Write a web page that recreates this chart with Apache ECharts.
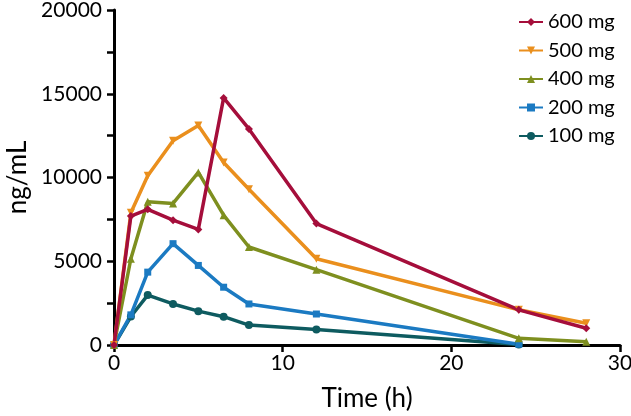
<!DOCTYPE html>
<html>
<head>
<meta charset="utf-8">
<script src="https://cdn.jsdelivr.net/npm/echarts@6/dist/echarts.min.js"></script>
<style>html,body{margin:0;padding:0;background:#fff}#c{width:631px;height:416px}</style>
</head>
<body>
<div id="c"></div>
<script>
const times = [0, 1, 2, 3.5, 5, 6.5, 8, 12, 24, 28];
const mg600 = [0, 7700, 8100, 7450, 6900, 14750, 12900, 7250, 2100, 1000];
const mg500 = [0, 7900, 10100, 12200, 13100, 10900, 9300, 5150, 2100, 1300];
const mg400 = [0, 5150, 8550, 8450, 10300, 7750, 5850, 4500, 400, 200];
const mg200 = [0, 1800, 4350, 6050, 4750, 3450, 2450, 1850, 50];
const mg100 = [0, 1700, 2980, 2450, 2020, 1690, 1190, 920, 30];
const names = ['600 mg', '500 mg', '400 mg', '200 mg', '100 mg'];
const xTicks = [0, 10, 20, 30];
const yTicks = [0, 5000, 10000, 15000, 20000];

const font = 'Lato, "DejaVu Sans", sans-serif';
function pairs(v) { return v.map((y, i) => [times[i], y]); }
function mk(name, vals, color, symbol, rot) {
  return {
    name: name, type: 'line', data: pairs(vals),
    symbol: symbol, symbolSize: symbol === 'rect' ? 7 : 8, symbolRotate: rot || 0,
    lineStyle: { width: 3.5, color: color },
    itemStyle: { color: color },
    animation: false
  };
}
const chart = echarts.init(document.getElementById('c'));
chart.setOption({
  backgroundColor: '#ffffff',
  grid: { left: 114, right: 11, top: 10, bottom: 71, containLabel: false, outerBoundsMode: 'none' },
  legend: {
    data: names, orient: 'vertical', left: 513, top: 7,
    itemWidth: 24, itemHeight: 10, itemGap: 8.5,
    textStyle: { fontFamily: font, fontSize: 20, color: '#000' }
  },
  xAxis: {
    type: 'value', min: xTicks[0], max: xTicks[xTicks.length - 1], interval: 10,
    name: 'Time (h)', nameLocation: 'middle', nameGap: 41,
    nameTextStyle: { fontFamily: font, fontSize: 26, color: '#000' },
    axisLine: { lineStyle: { color: '#000', width: 3 } },
    axisTick: { show: true, length: 7, lineStyle: { width: 2.5, color: '#000' } },
    axisLabel: { fontFamily: font, fontSize: 21, color: '#000', margin: 8 },
    splitLine: { show: false }
  },
  yAxis: {
    type: 'value', min: yTicks[0], max: yTicks[yTicks.length - 1], interval: 2500,
    name: 'ng/mL', nameLocation: 'middle', nameGap: 83, nameRotate: 90,
    nameTextStyle: { fontFamily: font, fontSize: 26, color: '#000' },
    axisLine: { show: true, lineStyle: { color: '#000', width: 3 } },
    axisTick: { show: true, length: 7, lineStyle: { width: 2.5, color: '#000' } },
    axisLabel: { fontFamily: font, fontSize: 21, color: '#000', margin: 12,
      formatter: v => yTicks.indexOf(v) >= 0 ? String(v) : '' },
    splitLine: { show: false }
  },
  series: [
    mk(names[4], mg100, '#0e5b60', 'circle'),
    mk(names[3], mg200, '#1b7ac2', 'rect'),
    mk(names[2], mg400, '#7e8f1f', 'triangle'),
    mk(names[1], mg500, '#ea8f1d', 'triangle', 180),
    mk(names[0], mg600, '#a50e3b', 'diamond')
  ]
});
</script>
</body>
</html>
